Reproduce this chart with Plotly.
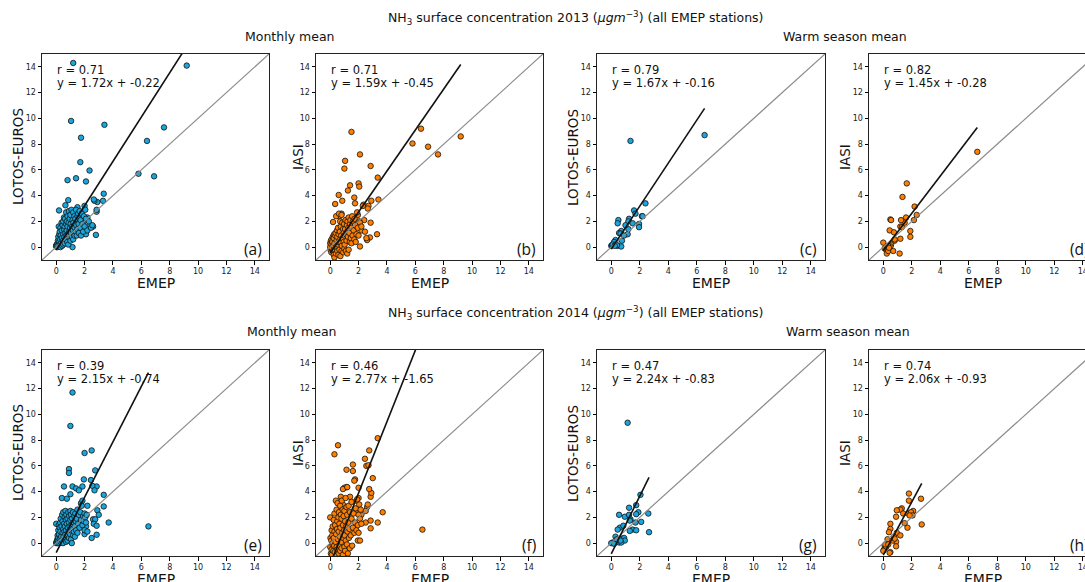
import plotly.graph_objects as go

# ---------------- data ----------------
# 2013 monthly means: EMEP (x) vs LOTOS-EUROS and IASI
emep13m = [9.2, 7.6, 6.9, 6.4, 5.8, 1.2, 1.05, 3.4, 1.75, 1.7,
           2.35, 0.8, 1.4, 2.1, 1.5, 1.0, 2.85, 3.35, 2.0, 2.05,
           1.25, 0.6, 0.35, 2.9, 2.7, 3.3, 2.85, 2.8, 2.6, 2.1,
           0.85, 0.65, 0.2, 1.15, 2.65, 2.4, 2.2, 1.8, 1.95, 1.6,
           1.3,
           0.0, 0.02, 0.05, 0.0, 0.08, 0.1, 0.1, 0.12,
           0.15, 0.18, 0.2, 0.22, 0.25, 0.25, 0.28, 0.3, 0.3, 0.32,
           0.35, 0.38, 0.4, 0.4, 0.42, 0.45, 0.48, 0.5, 0.5, 0.5,
           0.55, 0.55, 0.58, 0.6, 0.6, 0.62, 0.65, 0.68, 0.7, 0.7,
           0.72, 0.75, 0.75, 0.78, 0.8, 0.8, 0.82, 0.85, 0.88, 0.9,
           0.92, 0.95, 0.95, 0.98, 1.0, 1.0, 1.02, 1.05, 1.08, 1.1,
           1.12, 1.15, 1.18, 1.2, 1.2, 1.22, 1.25, 1.28, 1.3, 1.3,
           1.35, 1.38, 1.4, 1.42, 1.45, 1.5, 1.5, 1.55, 1.58, 1.6,
           1.65, 1.7, 1.72, 1.75, 1.8, 1.85, 1.9, 1.95, 2.0,
           2.05, 2.1, 2.2, 2.3, 2.45, 2.55]
lotos13m = [14.1, 9.3, 5.5, 8.25, 5.7, 14.3, 9.8, 9.5, 8.5, 6.6,
            5.95, 5.2, 5.35, 5.1, 3.1, 2.8, 2.75, 4.15, 3.2, 2.2,
            2.5, 2.1, 1.5, 3.5, 3.6, 3.6, 2.9, 0.95, 1.6, 1.0,
            3.65, 3.25, 2.85, 0.0, 3.7, 1.7, 2.3, 1.5, 2.0, 2.3,
            1.8,
            0.1, 0.15, 0.2, 0.05, 0.0, 0.3, 0.1, 0.5,
            0.8, 1.6, 0.4, 1.0, 0.2, 1.2, 0.6, 0.0, 1.5, 0.9,
            0.3, 1.9, 0.7, 1.3, 0.1, 1.7, 0.5, 2.0, 1.0, 0.2,
            1.4, 2.3, 0.8, 1.6, 0.3, 2.2, 1.1, 0.6, 1.8, 2.7,
            0.9, 1.3, 2.0, 0.4, 1.6, 2.4, 1.0, 0.2, 1.9, 2.8,
            1.2, 0.7, 2.2, 1.5, 0.5, 2.5, 1.8, 1.1, 2.9, 0.8,
            1.6, 2.1, 1.3, 0.6, 2.7, 1.9, 1.0, 2.4, 0.9, 1.5,
            2.2, 1.2, 2.9, 1.7, 0.9, 2.4, 1.4, 2.6, 1.8, 1.1,
            2.8, 1.5, 2.1, 0.9, 2.6, 1.8, 1.2, 2.4, 1.6,
            2.9, 2.2, 1.3, 2.0, 1.5, 1.7]
iasi13m = [8.6, 7.2, 7.8, 9.2, 8.05, 2.0, 6.7, 3.7, 3.4, 3.85,
           3.3, 2.6, 4.8, 7.2, 8.95, 6.1, 6.3, 5.4, 4.95, 4.7,
           4.4, 4.05, 3.35, 3.6, 3.2, 1.0, 1.9, 0.75, 0.55, 0.05,
           3.6, 2.4, 1.95, 2.1, 3.0, 2.1, 1.3, 1.0, 2.5, 1.6,
           1.2,
           0.3, -0.2, 0.5, 0.0, -0.4, 0.6, 0.2, -0.1,
           0.4, 0.8, -0.3, 0.1, -0.6, 0.7, 1.0, -0.8, 0.3, -0.2,
           0.9, 1.1, -0.5, 0.0, 2.4, 0.5, 1.3, -0.1, 0.8, -0.3,
           1.5, 0.2, -0.6, 1.0, 0.4, 2.6, -0.2, 1.2, 0.6, 2.0,
           -0.7, 0.3, 1.6, 0.9, -0.3, 2.5, 0.1, 1.9, 0.7, 1.4,
           -0.4, 1.1, 0.4, 1.8, -0.1, 0.9, 0.2, 1.4, 2.1, -0.3,
           1.0, 0.5, 1.7, -0.5, 1.2, 2.0, 0.8, 1.5, -0.2, 2.3,
           1.1, 0.4, 1.8, 2.1, 0.7, 0.3, 1.5, 2.4, 0.9, 2.0,
           1.3, 0.6, 2.2, 1.7, 0.4, 1.0, 2.7, 1.5, 0.9,
           2.0, 1.9, 1.6, 3.2, 1.2, 0.7]

# 2013 warm season means
emep13w_l = [6.55, 1.35, 2.4, 1.6, 1.7, 2.15, 2.2, 1.25, 1.2, 0.5,
             0.45, 1.5, 1.95, 1.95, 1.2, 0.7, 0.55, 0.65, 1.15, 0.3,
             0.75, 0.2, 0.0, 0.05, 0.1, 0.3, 0.45, 0.7, 0.4, 0.9,
             1.0, 0.25]
lotos13w = [8.7, 8.25, 3.4, 2.85, 2.6, 2.4, 2.4, 2.2, 2.0, 2.1,
            1.85, 1.85, 1.8, 1.55, 1.4, 1.25, 1.1, 1.05, 1.0, 0.55,
            0.5, 0.4, 0.1, 0.15, 0.2, 0.2, 0.1, 0.05, 0.15, 0.9,
            1.7, 0.1]
emep13w_i = [6.6, 1.65, 1.35, 2.2, 2.35, 2.15, 1.6, 1.5, 1.25, 1.2,
             1.3, 0.5, 0.55, 0.45, 0.75, 1.9, 1.9, 1.2, 0.8, 0.8,
             0.55, 0.5, 0.0, 0.1, 0.2, 0.3, 0.25, 0.35, 0.7, 1.15,
             0.35, 0.4]
iasi13w = [7.4, 4.95, 3.9, 3.15, 2.5, 2.1, 2.3, 1.9, 2.1, 1.6,
           1.55, 2.15, 2.1, 1.3, 1.15, 1.25, 0.8, 0.65, 0.5, 0.6,
           0.2, 0.05, 0.35, -0.1, -0.2, -0.15, -0.5, -0.3, -0.3, -0.5,
           0.1, -0.05]

# 2014 monthly means
emep14m = [1.15, 1.0, 2.5, 2.0, 2.75, 0.9, 0.9, 2.45, 1.95, 2.85,
           2.55, 0.55, 1.15, 1.85, 1.4, 1.6, 2.7, 1.0, 0.4, 0.75,
           3.35, 3.35, 1.75, 1.85, 2.2, 2.9, 3.7, 6.5, 2.6, 2.75,
           2.65, 2.85, 2.85, 2.5, 2.1, 2.0, 0.0, 0.3, 1.6, 1.7,
           3.0, 1.2,
           0.0, 0.02, 0.05, 0.08, 0.1, 0.1, 0.12, 0.15, 0.15, 0.18,
           0.2, 0.22, 0.25, 0.25, 0.28, 0.3, 0.3, 0.32, 0.35, 0.38,
           0.4, 0.42, 0.45, 0.45, 0.48, 0.5, 0.5, 0.52, 0.55, 0.58,
           0.6, 0.6, 0.62, 0.65, 0.65, 0.68, 0.7, 0.7, 0.72, 0.75,
           0.78, 0.8, 0.8, 0.82, 0.85, 0.88, 0.9, 0.9, 0.92, 0.95,
           0.98, 1.0, 1.0, 1.02, 1.05, 1.05, 1.08, 1.1, 1.12, 1.15,
           1.18, 1.2, 1.22, 1.25, 1.28, 1.3, 1.32, 1.35, 1.38, 1.4,
           1.45, 1.5, 1.5, 1.55, 1.6, 1.65, 1.7, 1.75, 1.8, 1.85,
           1.9, 1.95, 2.0, 2.0, 2.05, 2.1, 2.15, 2.2]
lotos14m = [11.7, 9.1, 7.2, 7.0, 5.65, 5.75, 5.45, 4.9, 4.95, 4.4,
            4.45, 4.4, 4.4, 4.4, 4.25, 4.1, 4.1, 3.8, 3.5, 3.45,
            3.75, 2.85, 3.1, 3.3, 2.9, 2.55, 1.6, 1.3, 1.85, 1.85,
            1.5, 1.35, 0.65, 0.4, 1.3, 0.7, 1.5, 0.5, 1.2, 2.3,
            2.2, 1.8,
            0.0, 0.1, 0.05, 0.3, 0.0, 0.6, 0.2, 1.0, 0.4, 1.4,
            0.7, 0.0, 1.2, 0.3, 1.6, 0.9, 0.1, 1.9, 0.5, 1.3,
            0.2, 2.2, 0.8, 1.7, 0.0, 1.1, 2.4, 0.5, 1.5, 0.9,
            2.0, 0.3, 1.3, 0.7, 2.5, 1.8, 0.1, 1.0, 2.2, 1.5,
            0.6, 1.9, 0.2, 1.2, 2.4, 0.9, 1.6, 0.4, 2.1, 1.3,
            0.7, 2.5, 1.8, 1.0, 0.3, 2.2, 1.4, 0.0, 1.9, 1.1,
            2.4, 0.6, 1.6, 0.9, 2.1, 1.3, 0.5, 2.3, 1.7, 1.0,
            1.9, 0.8, 2.6, 1.5, 2.2, 1.2, 2.4, 1.8, 2.9, 1.4,
            2.1, 1.7, 2.3, 1.0, 2.0, 1.6, 2.2, 0.9]
iasi14m = [4.35, 4.3, 1.6, 3.5, 7.2, 4.2, 3.0, 6.55, 0.2, 3.6,
           6.0, 7.6, 5.7, 3.3, 3.6, 6.1, 6.05, 2.4, 3.3, 3.6,
           8.15, 1.6, 4.95, 2.6, 2.2, 3.9, 2.4, 1.05, 2.8, 4.2,
           3.0, 1.15, 1.75, 2.5, 0.2, 4.3, 2.0, 6.9, 5.6, 4.85,
           5.05, 4.35,
           -0.3, 0.4, -0.8, 0.2, -0.5, 1.0, -0.9, 0.6, -0.1, 1.3,
           0.0, -0.6, 1.8, 0.4, -0.2, 2.3, 0.9, -0.7, 1.4, 0.1,
           -1.0, 0.7, 2.6, -0.3, 1.1, -0.5, 1.7, 3.1, 0.3, 2.0,
           -0.8, 0.9, 2.4, -0.2, 1.5, 0.5, 2.9, -0.6, 1.2, 2.2,
           0.1, 1.9, -0.4, 3.3, 0.8, 2.6, -0.9, 1.4, 0.4, 2.1,
           1.0, -0.3, 2.5, 0.6, 1.7, -0.6, 3.5, 0.2, 1.3, 2.8,
           -0.1, 2.2, 0.9, -0.8, 1.6, 2.9, 0.4, 1.1, -0.4, 2.4,
           0.6, 1.9, 3.2, -0.2, 1.2, 2.3, 0.8, 1.6, 2.7, 1.0,
           3.4, 1.4, 2.2, 0.8, 3.0, 1.9, 2.6, 1.5]

# 2014 warm season means
emep14w_l = [1.15, 2.05, 1.75, 1.25, 1.9, 1.75, 2.6, 0.55, 0.95, 1.35,
             1.3, 1.25, 2.1, 1.7, 0.6, 0.45, 0.85, 1.5, 1.3, 1.75,
             2.65, 0.3, 0.75, 0.9, 0.95, 0.55, 0.7, 0.1, 0.0, 0.2,
             0.4, 0.65]
lotos14w = [9.35, 3.75, 2.95, 2.75, 2.4, 2.25, 2.3, 2.2, 2.05, 1.85,
            1.75, 2.2, 1.65, 1.6, 1.2, 1.05, 1.35, 1.05, 0.95, 1.0,
            0.85, 0.5, 0.35, 0.4, 0.2, 0.05, 0.05, 0.05, 0.0, -0.05,
            0.3, 0.2]
emep14w_i = [2.65, 1.8, 1.8, 2.1, 1.3, 1.2, 0.95, 1.4, 1.75, 1.95,
             2.05, 1.85, 0.9, 1.7, 1.5, 2.7, 0.5, 0.5, 0.4, 0.95,
             1.2, 0.75, 0.3, 0.9, 0.9, 0.5, 0.45, 0.1, 0.05, 0.2,
             0.15, 0.0, 0.35, 0.65, 0.8]
iasi14w = [3.45, 3.85, 3.3, 2.5, 2.7, 2.6, 2.55, 2.3, 2.3, 2.4,
           2.15, 2.15, 2.05, 1.2, 1.55, 1.45, 1.5, 1.1, 0.85, 0.8,
           0.6, 0.5, 0.3, 0.1, -0.25, -0.7, -0.75, -0.2, -0.5, -0.3,
           -0.1, -0.6, -0.1, 0.2, 0.35]

# regression statistics shown in the panels: (r, slope, intercept)
stats = {
    "a": (0.71, 1.72, -0.22), "b": (0.71, 1.59, -0.45),
    "c": (0.79, 1.67, -0.16), "d": (0.82, 1.45, -0.28),
    "e": (0.39, 2.15, -0.74), "f": (0.46, 2.77, -1.65),
    "g": (0.47, 2.24, -0.83), "h": (0.74, 2.06, -0.93),
}
tick_vals = [0, 2, 4, 6, 8, 10, 12, 14]
years = ["2013", "2014"]

# ---------------- layout geometry ----------------
W, H = 1110, 582
BLUE = "#1aa6dd"
ORANGE = "#ff8000"
FONT = "DejaVu Sans"
col_px = [(42, 269), (316, 543), (597, 825), (869, 1097)]
row_px = [(54, 260), (350, 556)]
ytitle_off = [24, 18, 24, 24]

panels = [
    ("a", 0, 0, emep13m, lotos13m, "LOTOS-EUROS", BLUE),
    ("b", 0, 1, emep13m, iasi13m, "IASI", ORANGE),
    ("c", 0, 2, emep13w_l, lotos13w, "LOTOS-EUROS", BLUE),
    ("d", 0, 3, emep13w_i, iasi13w, "IASI", ORANGE),
    ("e", 1, 0, emep14m, lotos14m, "LOTOS-EUROS", BLUE),
    ("f", 1, 1, emep14m, iasi14m, "IASI", ORANGE),
    ("g", 1, 2, emep14w_l, lotos14w, "LOTOS-EUROS", BLUE),
    ("h", 1, 3, emep14w_i, iasi14w, "IASI", ORANGE),
]


def px(p):
    return p / W


def py(p):
    return 1 - p / H


fig = go.Figure()
annotations = []
layout_axes = {}

for i, (lab, r, c, xs, ys, ytitle, color) in enumerate(panels):
    sfx = "" if i == 0 else str(i + 1)
    xa, ya = "x" + sfx, "y" + sfx
    rr, slope, icpt = stats[lab]
    fig.add_trace(go.Scatter(
        x=xs, y=ys, mode="markers", xaxis=xa, yaxis=ya, showlegend=False,
        marker=dict(size=5.5, color=color, line=dict(color="#111", width=0.8)),
        hoverinfo="skip"))
    fig.add_trace(go.Scatter(
        x=[-1, 15], y=[-1, 15], mode="lines", xaxis=xa, yaxis=ya,
        showlegend=False, line=dict(color="#8c8c8c", width=1.2),
        hoverinfo="skip"))
    fx = [min(xs), max(xs)]
    fig.add_trace(go.Scatter(
        x=fx, y=[slope * v + icpt for v in fx], mode="lines", xaxis=xa,
        yaxis=ya, showlegend=False, line=dict(color="#111", width=1.6),
        hoverinfo="skip"))

    l, rgt = col_px[c]
    t, b = row_px[r]
    common = dict(range=[-1, 15], tickvals=tick_vals, ticks="outside",
                  ticklen=3.5, tickwidth=0.8, tickcolor="#000",
                  showline=True, linecolor="#222", linewidth=1, mirror=True,
                  showgrid=False, zeroline=False, fixedrange=True,
                  tickfont=dict(size=8, color="#222", family=FONT))
    layout_axes["xaxis" + sfx] = dict(domain=[px(l), px(rgt)], anchor=ya, **common)
    layout_axes["yaxis" + sfx] = dict(domain=[py(b), py(t)], anchor=xa, **common)

    # axis titles
    annotations.append(dict(text="EMEP", x=px((l + rgt) / 2), y=py(b + 23),
                            xref="paper", yref="paper", showarrow=False,
                            xanchor="center", yanchor="middle",
                            font=dict(size=14, color="#111", family=FONT)))
    annotations.append(dict(text=ytitle, x=px(l - ytitle_off[c]), y=py((t + b) / 2),
                            xref="paper", yref="paper", showarrow=False,
                            textangle=-90, xanchor="center", yanchor="middle",
                            font=dict(size=13.5, color="#111", family=FONT)))
    # statistics text
    annotations.append(dict(text=f"r = {rr:.2f}", x=px(l + 13), y=py(t + 16),
                            xref="paper", yref="paper", showarrow=False,
                            xanchor="left", yanchor="middle",
                            font=dict(size=11.5, color="#111", family=FONT)))
    annotations.append(dict(text=f"y = {slope:.2f}x + {icpt:.2f}", x=px(l + 13),
                            y=py(t + 29), xref="paper", yref="paper",
                            showarrow=False, xanchor="left", yanchor="middle",
                            font=dict(size=11.5, color="#111", family=FONT)))
    # panel label
    annotations.append(dict(text=f"({lab})", x=px(l + 222), y=py(t + 195),
                            xref="paper", yref="paper", showarrow=False,
                            xanchor="right", yanchor="middle",
                            font=dict(size=15.5, color="#111", family="Open Sans")))

# figure titles
for k, yr in enumerate(years):
    base = 18 if k == 0 else 313
    annotations.append(dict(
        text=f"NH<sub>3</sub> surface concentration {yr} (<i>μgm</i><sup>−3</sup>) (all EMEP stations)",
        x=px(575), y=py(base), xref="paper", yref="paper", showarrow=False,
        xanchor="center", yanchor="middle",
        font=dict(size=12.5, color="#111", family=FONT)))
    annotations.append(dict(text="Monthly mean", x=px(289 + 2 * k), y=py(base + 18),
                            xref="paper", yref="paper", showarrow=False,
                            xanchor="center", yanchor="middle",
                            font=dict(size=12.5, color="#111", family=FONT)))
    annotations.append(dict(text="Warm season mean", x=px(845 + 3 * k), y=py(base + 18),
                            xref="paper", yref="paper", showarrow=False,
                            xanchor="center", yanchor="middle",
                            font=dict(size=12.5, color="#111", family=FONT)))

fig.update_layout(
    width=W, height=H, margin=dict(l=0, r=0, t=0, b=0),
    paper_bgcolor="white", plot_bgcolor="white",
    font=dict(family=FONT, color="#111"),
    annotations=annotations, **layout_axes)

fig.write_html(
    "out.html", config={"displayModeBar": False},
    post_script="document.body.style.margin='0';document.body.style.overflow='hidden';"
                "document.documentElement.style.overflow='hidden';")
